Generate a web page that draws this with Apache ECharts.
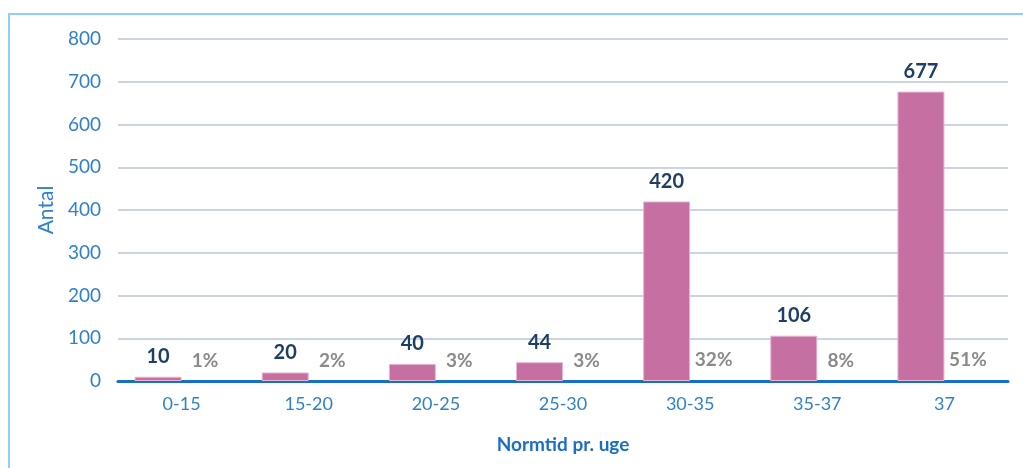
<!DOCTYPE html>
<html>
<head>
<meta charset="utf-8">
<script src="https://cdn.jsdelivr.net/npm/echarts@6/dist/echarts.min.js"></script>
<style>
  html, body { margin: 0; padding: 0; background: #fff; }
  #chart { width: 1023px; height: 468px; }
  #frame {
    position: absolute; left: 8px; top: 13px; right: 0; bottom: 0;
    border-left: 2px solid #92cdf6; border-top: 2px solid #92cdf6;
    pointer-events: none;
  }
</style>
</head>
<body>
<div id="chart"></div>
<div id="frame"></div>
<script>
// data
const categories = ["0-15", "15-20", "20-25", "25-30", "30-35", "35-37", "37"];
const counts = [10, 20, 40, 44, 420, 106, 677];
const percents = [1, 2, 3, 3, 32, 8, 51];
const yTicks = [0, 100, 200, 300, 400, 500, 600, 700, 800];

const font = "Lato, 'Open Sans', sans-serif";

const myChart = echarts.init(document.getElementById("chart"), null, { renderer: "canvas" });

const option = {
  animation: false,
  grid: {
    left: 118,
    right: 15,
    top: 39,
    bottom: 87
  },
  xAxis: {
    type: "category",
    data: categories,
    name: "Normtid pr. uge",
    nameLocation: "middle",
    nameGap: 54,
    nameTextStyle: {
      color: "#1b6fc2",
      fontSize: 19,
      fontWeight: "bold",
      fontFamily: font
    },
    axisLine: { lineStyle: { color: "#1770c4", width: 3 } },
    axisTick: { show: false },
    axisLabel: {
      color: "#2f80cf",
      fontSize: 18,
      fontFamily: font,
      margin: 14
    }
  },
  yAxis: {
    type: "value",
    min: yTicks[0],
    max: yTicks[yTicks.length - 1],
    interval: yTicks[1] - yTicks[0],
    name: "Antal",
    nameLocation: "middle",
    nameGap: 60,
    nameTextStyle: {
      color: "#2f80cf",
      fontSize: 21,
      fontFamily: font
    },
    axisLine: { show: false },
    axisTick: { show: false },
    axisLabel: {
      color: "#2f80cf",
      fontSize: 19,
      fontFamily: font,
      margin: 17
    },
    splitLine: { lineStyle: { color: "#cbd5e0", width: 2 } }
  },
  series: [
    {
      name: "Antal",
      type: "bar",
      barWidth: 47,
      barGap: "0%",
      data: counts,
      itemStyle: {
        color: "#c56fa3",
        borderColor: "#e6b6d2",
        borderWidth: 1
      },
      label: {
        show: true,
        position: "top",
        distance: 10,
        color: "#1d3f66",
        fontSize: 20,
        fontWeight: "bold",
        fontFamily: font
      }
    },
    {
      name: "Andel",
      type: "bar",
      barWidth: 47,
      data: percents.map(p => p / 100),
      itemStyle: { color: "rgba(0,0,0,0)" },
      label: {
        show: true,
        position: "top",
        distance: 11,
        color: "#8a8a8a",
        fontSize: 19,
        fontWeight: "bold",
        fontFamily: font,
        formatter: p => percents[p.dataIndex] + "%"
      }
    }
  ]
};

myChart.setOption(option);
</script>
</body>
</html>
